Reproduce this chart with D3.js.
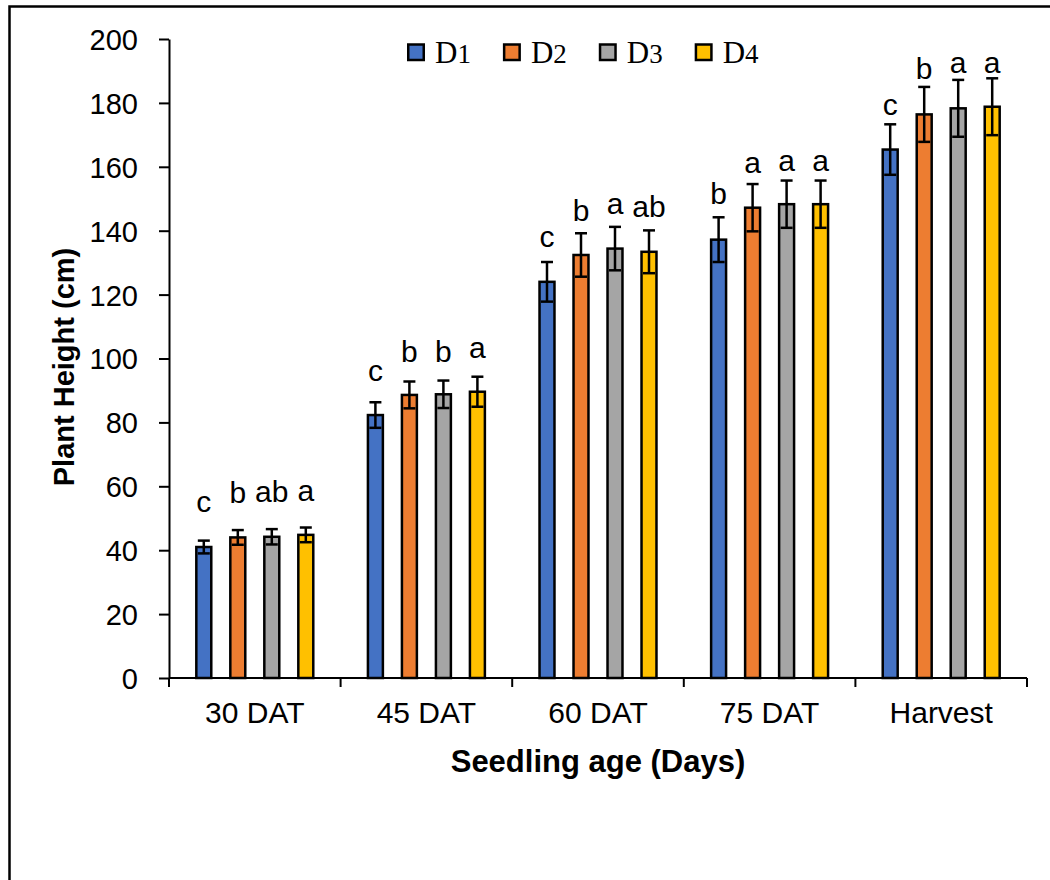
<!DOCTYPE html>
<html>
<head>
<meta charset="utf-8">
<script src="https://d3js.org/d3.v7.min.js"></script>
<style>
    body { margin: 0; background: #fff; }
    svg text { font-family: "Liberation Sans", Arial, sans-serif; fill: #000; }
    .axis path, .axis line { stroke: #000; stroke-width: 2px; }
    .legend text { font-family: "Liberation Serif", "DejaVu Serif", serif; }
</style>
</head>
<body>
<script>
    // data
    const categories = ['30 DAT', '45 DAT', '60 DAT', '75 DAT', 'Harvest'];
    const series = ['D1', 'D2', 'D3', 'D4'];
    const colors = ['#4472C4', '#ED7D31', '#A5A5A5', '#FFC000'];

    const d1 = [41.0, 82.3, 124.0, 137.2, 165.4];
    const d2 = [44.0, 88.6, 132.4, 147.2, 176.4];
    const d3v = [44.2, 88.8, 134.4, 148.3, 178.3];
    const d4 = [44.8, 89.6, 133.4, 148.3, 178.8];

    const d1Err = [2.0, 4.0, 6.2, 7.0, 7.9];
    const d2Err = [2.3, 4.2, 6.8, 7.4, 8.6];
    const d3Err = [2.4, 4.3, 6.8, 7.4, 8.9];
    const d4Err = [2.3, 4.7, 6.7, 7.4, 8.9];

    const d1Letters = ['c', 'c', 'c', 'b', 'c'];
    const d2Letters = ['b', 'b', 'b', 'a', 'b'];
    const d3Letters = ['ab', 'b', 'a', 'a', 'a'];
    const d4Letters = ['a', 'a', 'ab', 'a', 'a'];

    // height (cm) where each letter sits
    const d1LetterAt = [52.0, 93.0, 134.8, 148.4, 176.2];
    const d2LetterAt = [54.9, 99.0, 143.1, 158.0, 187.4];
    const d3LetterAt = [55.2, 99.0, 145.2, 158.8, 189.3];
    const d4LetterAt = [55.5, 100.1, 144.2, 158.8, 189.3];

    const yTicks = [0, 20, 40, 60, 80, 100, 120, 140, 160, 180, 200];

    const values = [d1, d2, d3v, d4];
    const errs = [d1Err, d2Err, d3Err, d4Err];
    const letters = [d1Letters, d2Letters, d3Letters, d4Letters];
    const letterAt = [d1LetterAt, d2LetterAt, d3LetterAt, d4LetterAt];

    const width = 1050, height = 880;
    const margin = {left: 169, right: 23, top: 39, bottom: 202};

    const svg = d3.select('body').append('svg')
        .attr('width', width)
        .attr('height', height);

    // outer frame (runs off the right and bottom edges)
    svg.append('rect')
        .attr('x', 9.5).attr('y', 6.5)
        .attr('width', 1100).attr('height', 1000)
        .attr('fill', 'none')
        .attr('stroke', '#000')
        .attr('stroke-width', 2.5);

    const x0 = d3.scaleBand()
        .domain(categories)
        .range([margin.left, width - margin.right]);

    const x1 = d3.scaleBand()
        .domain(series)
        .range([-68, 68])
        .paddingInner(0.56)
        .paddingOuter(0.28);

    const y = d3.scaleLinear()
        .domain([0, 200])
        .range([height - margin.bottom, margin.top]);

    // rows: one per bar
    const rows = [];
    categories.forEach((c, i) => {
        series.forEach((s, j) => {
            rows.push({cat: c, s: s, j: j, v: values[j][i], e: errs[j][i],
                       lab: letters[j][i], labY: letterAt[j][i]});
        });
    });

    const cx = d => x0(d.cat) + x0.bandwidth() / 2 + x1(d.s) + x1.bandwidth() / 2;

    const bars = svg.append('g');
    bars.selectAll('rect')
        .data(rows)
        .join('rect')
        .attr('x', d => cx(d) - x1.bandwidth() / 2)
        .attr('y', d => y(d.v))
        .attr('width', x1.bandwidth())
        .attr('height', d => y(0) - y(d.v))
        .attr('fill', d => colors[d.j])
        .attr('stroke', '#000')
        .attr('stroke-width', 2.5);

    // error bars
    const eb = svg.append('g')
        .attr('stroke', '#000')
        .attr('stroke-width', 2.5);
    eb.selectAll('line.v')
        .data(rows)
        .join('line')
        .attr('class', 'v')
        .attr('x1', cx).attr('x2', cx)
        .attr('y1', d => y(d.v - d.e))
        .attr('y2', d => y(d.v + d.e));
    eb.selectAll('line.top')
        .data(rows)
        .join('line')
        .attr('class', 'top')
        .attr('x1', d => cx(d) - 6).attr('x2', d => cx(d) + 6)
        .attr('y1', d => y(d.v + d.e)).attr('y2', d => y(d.v + d.e));
    eb.selectAll('line.bot')
        .data(rows)
        .join('line')
        .attr('class', 'bot')
        .attr('x1', d => cx(d) - 6).attr('x2', d => cx(d) + 6)
        .attr('y1', d => y(d.v - d.e)).attr('y2', d => y(d.v - d.e));

    // significance letters
    svg.append('g').selectAll('text')
        .data(rows)
        .join('text')
        .attr('x', cx)
        .attr('y', d => y(d.labY))
        .attr('text-anchor', 'middle')
        .style('font-size', '30px')
        .text(d => d.lab);

    // axes
    const yAxis = svg.append('g')
        .attr('class', 'axis')
        .attr('transform', `translate(${margin.left},0)`)
        .call(d3.axisLeft(y).tickValues(yTicks).tickSize(10).tickPadding(21).tickSizeOuter(0));
    yAxis.selectAll('text').style('font-size', '29px').attr('dy', '0.36em');

    const xAxis = svg.append('g')
        .attr('class', 'axis')
        .attr('transform', `translate(0,${y(0)})`)
        .call(d3.axisBottom(x0).tickSize(0).tickPadding(0));
    xAxis.select('.domain').remove();
    xAxis.append('line')
        .attr('x1', margin.left).attr('x2', width - margin.right)
        .attr('stroke', '#000').attr('stroke-width', 2);
    // tick marks sit between the groups
    xAxis.selectAll('line.sep')
        .data(d3.range(categories.length + 1))
        .join('line')
        .attr('class', 'sep')
        .attr('x1', i => margin.left + i * x0.step())
        .attr('x2', i => margin.left + i * x0.step())
        .attr('y1', 0).attr('y2', 9)
        .attr('stroke', '#000').attr('stroke-width', 2);
    xAxis.selectAll('.tick text')
        .style('font-size', '30px')
        .attr('dy', null)
        .attr('y', 45);

    // axis titles
    svg.append('text')
        .attr('x', (margin.left + width - margin.right) / 2)
        .attr('y', 772)
        .attr('text-anchor', 'middle')
        .style('font-size', '31px')
        .style('font-weight', 'bold')
        .text('Seedling age (Days)');

    svg.append('text')
        .attr('transform', 'translate(74,367) rotate(-90)')
        .attr('text-anchor', 'middle')
        .style('font-size', '29px')
        .style('font-weight', 'bold')
        .text('Plant Height (cm)');

    // legend
    const legend = svg.append('g').attr('class', 'legend');
    let lx = 407;
    series.forEach((s, j) => {
        legend.append('rect')
            .attr('x', lx + 1.25).attr('y', 44.5)
            .attr('width', 15.5).attr('height', 15.5)
            .attr('fill', colors[j])
            .attr('stroke', '#000').attr('stroke-width', 2.5);
        const t = legend.append('text')
            .attr('x', lx + 28)
            .attr('y', 63)
            .style('font-size', '31px');
        t.append('tspan').text(s.slice(0, 1));
        t.append('tspan').style('font-size', '27px').text(s.slice(1));
        lx = lx + 28 + t.node().getComputedTextLength() + 32;
    });
</script>
</body>
</html>
